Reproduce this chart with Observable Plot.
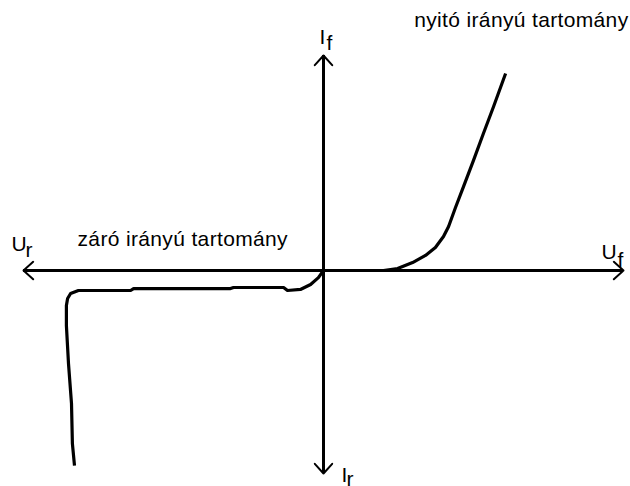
<!DOCTYPE html>
<html>
<head>
<meta charset="utf-8">
<script src="https://cdn.jsdelivr.net/npm/d3@7"></script>
<script src="https://cdn.jsdelivr.net/npm/@observablehq/plot@0.6"></script>
<style>
  html, body { margin: 0; padding: 0; background: #fff; }
  #chart svg { display: block; }
  #chart text.region { letter-spacing: 0.35px; }
</style>
</head>
<body>
<div id="chart"></div>
<script>
// Diode characteristic (sketch) — voltage (U) vs current (I), arbitrary units
const voltage = [-8.30, -8.37, -8.40, -8.50, -8.57, -8.57, -8.53, -8.43, -8.17, -6.43, -6.33, -3.10, -3.00, -1.33, -1.20, -0.77, -0.43, -0.17, 0.00,
                 2.00, 2.47, 2.97, 3.40, 3.73, 4.00, 4.17, 4.40, 4.67, 5.00, 5.33, 5.67, 6.07];
const current = [-9.07, -8.05, -6.19, -4.33, -2.56, -1.63, -1.30, -1.07, -0.93, -0.93, -0.84, -0.84, -0.79, -0.79, -0.93, -0.88, -0.65, -0.33, 0.00,
                 0.00, 0.09, 0.37, 0.70, 1.07, 1.58, 2.05, 2.93, 3.91, 5.12, 6.37, 7.63, 9.16];

const xDomain = [-10, 10];
const yDomain = [-9.44, 10];

const axisNames = ["U", "U", "I", "I"];   // right, left, top, bottom
const axisSubs  = ["f", "r", "f", "r"];
const regionLabels = ["nyitó irányú tartomány", "záró irányú tartomány"];

const curve = voltage.map((u, i) => ({u, i: current[i]}));
const tips = [[xDomain[1], 0], [xDomain[0], 0], [0, yDomain[1]], [0, yDomain[0]]];
const arrows = tips.map(([x, y]) => ({x1: 0, y1: 0, x2: x, y2: y}));

const font = "'Liberation Sans', Arial, sans-serif";
const fs = 21;

// offsets (px) of main letter and subscript relative to each arrow tip
const mainOff = [[-22, -12], [-12, -20], [-4, -12], [18, 8]];
const subOff  = [[-6, -4],   [2, -14],   [3, -6],   [23, 12]];

const labelMarks = [];
tips.forEach(([x, y], k) => {
  labelMarks.push(Plot.text([axisNames[k]], {x: () => x, y: () => y, text: d => d, textAnchor: "start", lineAnchor: "bottom",
    dx: mainOff[k][0], dy: mainOff[k][1], fontSize: fs, fill: "#000"}));
  labelMarks.push(Plot.text([axisSubs[k]], {x: () => x, y: () => y, text: d => d, textAnchor: "start", lineAnchor: "bottom",
    dx: subOff[k][0], dy: subOff[k][1], fontSize: fs, fill: "#000"}));
});

const chart = Plot.plot({
  width: 630,
  height: 486,
  marginLeft: 23,
  marginRight: 7,
  marginTop: 55,
  marginBottom: 13,
  x: {domain: xDomain, axis: null},
  y: {domain: yDomain, axis: null},
  style: {fontFamily: font, fontSize: fs + "px", background: "#fff", color: "#000"},
  marks: [
    Plot.ruleY([0], {stroke: "#000", strokeWidth: 3}),
    Plot.ruleX([0], {stroke: "#000", strokeWidth: 3}),
    Plot.arrow(arrows, {x1: "x1", y1: "y1", x2: "x2", y2: "y2", stroke: "#000", strokeWidth: 2, headLength: 9.75, headAngle: 84}),
    Plot.line(curve, {x: "u", y: "i", stroke: "#000", strokeWidth: 3.2, strokeLinejoin: "round", strokeLinecap: "butt"}),
    Plot.text([regionLabels[0]], {frameAnchor: "top-right", text: d => d, textAnchor: "end", lineAnchor: "bottom", dx: 5, dy: -29, fontSize: fs, fill: "#000", className: "region"}),
    Plot.text([regionLabels[1]], {frameAnchor: "left", text: d => d, textAnchor: "start", lineAnchor: "bottom", dx: 54, dy: -19, fontSize: fs, fill: "#000", className: "region"}),
    ...labelMarks
  ]
});
document.getElementById("chart").append(chart);
// apply letter spacing to region labels (className goes on the mark group)
chart.querySelectorAll("g.region text").forEach(t => t.setAttribute("letter-spacing", "0.35"));
</script>
</body>
</html>
